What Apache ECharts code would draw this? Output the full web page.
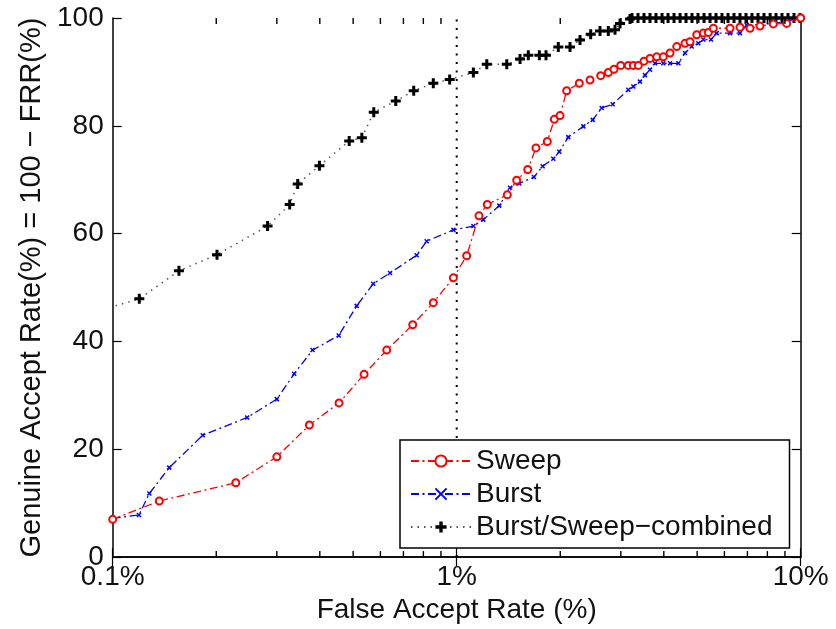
<!DOCTYPE html>
<html>
<head>
<meta charset="utf-8">
<script src="https://cdn.jsdelivr.net/npm/echarts@6/dist/echarts.min.js"></script>
<style>html,body{margin:0;padding:0;background:#fff}#c{width:836px;height:629px}</style>
</head>
<body>
<div id="c"></div>
<script>
// ---- data (FAR %, GAR %) ----
const seriesNames = ['Sweep', 'Burst', 'Burst/Sweep\u2212combined'];

const sweep = [[0.1,7.0],[0.1366,10.4],[0.228,13.8],[0.300,18.6],[0.373,24.5],[0.455,28.6],[0.538,33.9],[0.626,38.4],[0.745,43.1],[0.855,47.2],[0.978,51.8],[1.069,55.9],[1.161,63.3],[1.227,65.4],[1.403,67.2],[1.494,69.9],[1.609,71.9],[1.700,75.9],[1.834,77.1],[1.922,81.2],[1.997,81.9],[2.088,86.5],[2.272,87.9],[2.441,88.5],[2.622,89.3],[2.759,89.9],[2.866,90.5],[2.998,91.2],[3.154,91.2],[3.262,91.2],[3.373,91.2],[3.504,92.0],[3.647,92.5],[3.814,92.8],[3.986,92.8],[4.170,93.5],[4.361,94.7],[4.610,95.3],[4.767,95.6],[4.986,96.9],[5.212,97.2],[5.389,97.3],[5.572,98.1],[6.231,98.1],[6.660,98.3],[7.123,98.1],[7.615,98.5],[8.324,98.9],[9.106,99.0],[10,100]];

const burst = [[0.1,7.2],[0.1192,7.8],[0.1278,11.8],[0.146,16.6],[0.1827,22.6],[0.246,25.9],[0.300,29.3],[0.337,34.0],[0.381,38.4],[0.454,41.1],[0.512,46.6],[0.572,50.7],[0.640,52.7],[0.765,56.0],[0.818,58.6],[0.978,60.7],[1.118,61.4],[1.195,62.6],[1.330,65.2],[1.429,68.5],[1.521,69.3],[1.677,70.5],[1.778,72.5],[1.909,73.9],[1.987,75.2],[2.110,77.9],[2.334,79.9],[2.485,81.1],[2.639,83.3],[2.841,84.0],[3.154,86.7],[3.262,87.3],[3.41,88.2],[3.527,89.4],[3.647,90.4],[3.771,91.6],[3.986,91.6],[4.17,91.6],[4.409,91.6],[4.61,93.5],[4.821,94.7],[5.039,95.3],[5.212,96.0],[5.485,96.0],[5.7,97.2],[6.231,97.2],[6.66,97.2],[6.966,98.7],[7.615,98.8],[8.324,99.0],[9.106,99.4],[10,100]];

const combined = [[0.09,45.6],[0.1195,47.9],[0.1558,53.1],[0.201,56.1],[0.282,61.4],[0.327,65.4],[0.345,69.2],[0.399,72.6],[0.487,77.2],[0.530,77.8],[0.574,82.5],[0.665,84.6],[0.750,86.5],[0.855,87.9],[0.954,88.6],[1.118,89.9],[1.223,91.4],[1.398,91.4],[1.528,92.4],[1.615,93.1],[1.739,93.1],[1.818,93.1],[1.974,94.6],[2.135,94.6],[2.283,95.9],[2.452,97.0],[2.610,97.6],[2.759,97.6],[2.885,97.8],[2.984,99.0],[3.19,99.8],[3.233,100],[3.365,100],[3.504,100],[3.647,100],[3.796,100],[3.953,100],[4.115,100],[4.283,100],[4.46,100],[4.641,100],[4.831,100],[5.029,100],[5.236,100],[5.45,100],[5.673,100],[5.905,100],[6.148,100],[6.399,100],[6.66,100],[6.934,100],[7.218,100],[7.514,100],[7.822,100],[8.15,100],[8.476,100],[8.823,100],[9.186,100],[9.561,100],[9.954,100]];

const thresholdFAR = [1];
const xTickLabels = ['0.1%', '1%', '10%'];
const xMinorTicks = [0.2,0.3,0.4,0.5,0.6,0.7,0.8,0.9,2,3,4,5,6,7,8,9];
const yTicks = [0, 20, 40, 60, 80, 100];
const xTitle = 'False Accept Rate (%)';
const yTitle = 'Genuine Accept Rate(%) = 100 \u2212 FRR(%)';

// ---- chart ----
const FONT = 'Liberation Sans, Arial, Helvetica, sans-serif';
const chart = echarts.init(document.getElementById('c'), null, {renderer: 'canvas'});

const plusPath = 'path://M3.5,0H6.5V3.5H10V6.5H6.5V10H3.5V6.5H0V3.5H3.5Z';
const xPath = 'path://M0,0L10,10M10,0L0,10';

function xLabel(v) {
  const k = Math.round(Math.log10(v)) + 1;
  return xTickLabels[k] !== undefined ? xTickLabels[k] : '';
}

const axisLineStyle = {show: true, lineStyle: {color: '#000', width: 1.5}};

const option = {
  backgroundColor: '#fff',
  animation: false,
  grid: {left: 112.7, right: 35.3, top: 18, bottom: 71, show: false},
  legend: {
    data: seriesNames,
    orient: 'vertical',
    left: 400, top: 440,
    itemWidth: 60, itemHeight: 14, itemGap: 5, itemTextGap: 10,
    padding: [7, 17, 7, 10],
    borderColor: '#000', borderWidth: 1.5, borderRadius: 0,
    backgroundColor: '#fff',
    selectedMode: false,
    textStyle: {fontSize: 28, color: '#111', fontFamily: FONT}
  },
  xAxis: [{
    type: 'log', logBase: 10, min: 0.1, max: 10, position: 'bottom',
    axisLine: axisLineStyle,
    axisTick: {show: true, inside: true, length: 9, lineStyle: {color: '#000', width: 1.2}},
    axisLabel: {formatter: xLabel, fontSize: 28, color: '#111', fontFamily: FONT, margin: 6},
    splitLine: {show: false},
    name: xTitle, nameLocation: 'middle', nameGap: 34,
    nameTextStyle: {fontSize: 28, color: '#111', fontFamily: FONT}
  }, {
    type: 'log', logBase: 10, min: 0.1, max: 10, position: 'top',
    axisLine: axisLineStyle,
    axisTick: {show: true, inside: true, length: 9, lineStyle: {color: '#000', width: 1.2}},
    axisLabel: {show: false},
    splitLine: {show: false}
  }],
  yAxis: [{
    type: 'value', min: 0, max: 100, interval: 20, position: 'left',
    axisLine: axisLineStyle,
    axisTick: {show: true, inside: true, length: 9, lineStyle: {color: '#000', width: 1.2}},
    axisLabel: {fontSize: 28, color: '#111', fontFamily: FONT, margin: 9,
      formatter: v => (yTicks.indexOf(v) >= 0 ? String(v) : '')},
    splitLine: {show: false},
    name: yTitle, nameLocation: 'middle', nameGap: 63, nameRotate: 90,
    nameTextStyle: {fontSize: 29, color: '#111', fontFamily: FONT}
  }, {
    type: 'value', min: 0, max: 100, interval: 20, position: 'right',
    axisLine: axisLineStyle,
    axisTick: {show: true, inside: true, length: 9, lineStyle: {color: '#000', width: 1.2}},
    axisLabel: {show: false},
    splitLine: {show: false}
  }],
  series: [
    {
      name: 'threshold', type: 'line', xAxisIndex: 0, yAxisIndex: 0,
      data: [[thresholdFAR[0], 0], [thresholdFAR[0], 100]],
      symbol: 'none', silent: true, z: 1,
      lineStyle: {color: '#000', width: 2, type: [2, 6.5]}
    },
    {
      name: seriesNames[2], type: 'line', xAxisIndex: 0, yAxisIndex: 0,
      data: combined, clip: true, z: 3,
      symbol: plusPath, symbolSize: 10,
      itemStyle: {color: '#000'},
      lineStyle: {color: '#555', width: 1.5, type: [1.5, 5]}
    },
    {
      name: seriesNames[1], type: 'line', xAxisIndex: 0, yAxisIndex: 0,
      data: burst, clip: true, z: 4,
      symbol: xPath, symbolSize: 4,
      itemStyle: {color: '#0000ff', borderColor: '#0000ff', borderWidth: 1.5},
      lineStyle: {color: '#0000ff', width: 1.3, type: [8, 3.5, 2, 3.5]}
    },
    {
      name: seriesNames[0], type: 'line', xAxisIndex: 0, yAxisIndex: 0,
      data: sweep, clip: true, z: 5,
      symbol: 'emptyCircle', symbolSize: 7,
      itemStyle: {color: '#ff0000', borderColor: '#ff0000', borderWidth: 1.2},
      lineStyle: {color: '#ff0000', width: 1.3, type: [8, 3.5, 2, 3.5]}
    },
    {
      name: 'minorTicks', type: 'custom', xAxisIndex: 0, yAxisIndex: 0,
      data: xMinorTicks.map(v => [v, 0]), encode: {x: 0, y: 1},
      silent: true, clip: false, z: 10,
      renderItem: function (params, api) {
        const b = api.coord([api.value(0), 0]);
        const t = api.coord([api.value(0), 100]);
        const st = {stroke: '#000', lineWidth: 1.4};
        return {type: 'group', children: [
          {type: 'line', shape: {x1: b[0], y1: b[1], x2: b[0], y2: b[1] - 6}, style: st},
          {type: 'line', shape: {x1: t[0], y1: t[1], x2: t[0], y2: t[1] + 6}, style: st}
        ]};
      }
    }
  ]
};
chart.setOption(option);
</script>
</body>
</html>
